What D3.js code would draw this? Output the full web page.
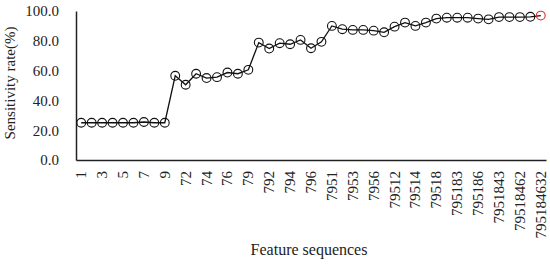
<!DOCTYPE html>
<html>
<head>
<meta charset="utf-8">
<script src="https://cdn.jsdelivr.net/npm/d3@7"></script>
<style>
	body { margin:0; background:#fff; }
	#chart { width:550px; height:264px; }
	text { font-family:"Liberation Serif","DejaVu Serif",serif; fill:#222; }
</style>
</head>
<body>
<div id="chart"></div>
<script>
var features = ["1","2","3","4","5","6","7","8","9",
	"71","72","73","74","75","76","78","79",
	"791","792","793","794","795","796","798",
	"7951","7952","7953","7954","7956","7958",
	"79512","79513","79514","79516","79518",
	"795181","795183","795184","795186","795187",
	"7951843","7951846","79518462","79518463","795184632"];

var sensitivity = [25,25,25,25,25,25,25.5,25,25,
	56.5,50.5,57.9,55,55.6,58.7,57.9,60.5,
	78.8,74.8,78.4,77.7,80.6,75,79.3,
	90,87.8,87.3,87.3,86.8,85.7,
	89.5,92.2,90,92.2,94.9,
	95.5,95.5,95.5,94.9,94.4,
	95.9,95.9,95.9,96.1,96.9];

var yTicks = [0,20,40,60,80,100];

var dom = document.getElementById('chart');
var width = 550, height = 264;

var svg = d3.select(dom)
	.append("svg")
	.attr("width", width)
	.attr("height", height);

var padding = {left:76, right:4, top:11, bottom:104};

var xScale = d3.scaleBand()
	.domain(features)
	.range([padding.left, width - padding.right])
	.padding(0);

var yScale = d3.scaleLinear()
	.domain([0,100])
	.range([height - padding.bottom, padding.top]);

var xAxis = d3.axisBottom(xScale)
	.tickValues(features.filter(function(d,i){ return i % 2 == 0; }))
	.tickSizeInner(0)
	.tickSizeOuter(0)
	.tickPadding(0);

var yAxis = d3.axisLeft(yScale)
	.tickValues(yTicks)
	.tickFormat(d3.format(".1f"))
	.tickSizeInner(0)
	.tickSizeOuter(0)
	.tickPadding(17);

var gx = svg.append("g")
	.attr("transform","translate(0," + (height - padding.bottom) + ")")
	.call(xAxis);
gx.select(".domain").attr("stroke","#222").attr("stroke-width",1.5);
gx.selectAll("text")
	.attr("font-size",15)
	.attr("fill","#222")
	.attr("text-anchor","end")
	.attr("dy","0.33em")
	.attr("transform","translate(0,11) rotate(-90)")
	.attr("x",0).attr("y",0);

var gy = svg.append("g")
	.attr("transform","translate(" + padding.left + ",0)")
	.call(yAxis);
gy.select(".domain").attr("stroke","#222").attr("stroke-width",1.5);
gy.selectAll("text").attr("font-size",15).attr("fill","#222");

var line = d3.line()
	.x(function(d,i){ return xScale(features[i]) + xScale.bandwidth()/2; })
	.y(function(d){ return yScale(d); });

svg.append("path")
	.datum(sensitivity)
	.attr("fill","none")
	.attr("stroke","#111")
	.attr("stroke-width",1.3)
	.attr("d", line);

svg.selectAll(".dot")
	.data(sensitivity)
	.enter()
	.append("circle")
	.attr("class","dot")
	.attr("cx",function(d,i){ return xScale(features[i]) + xScale.bandwidth()/2; })
	.attr("cy",function(d){ return yScale(d); })
	.attr("r",4.4)
	.attr("fill","none")
	.attr("stroke",function(d,i){ return i == sensitivity.length - 1 ? "#e0302c" : "#111"; })
	.attr("stroke-width",1.1);

svg.append("text")
	.attr("transform","translate(15,83) rotate(-90)")
	.attr("text-anchor","middle")
	.attr("font-size",15)
	.text("Sensitivity rate(%)");

svg.append("text")
	.attr("x",309)
	.attr("y",255)
	.attr("text-anchor","middle")
	.attr("font-size",16)
	.text("Feature sequences");
</script>
</body>
</html>
